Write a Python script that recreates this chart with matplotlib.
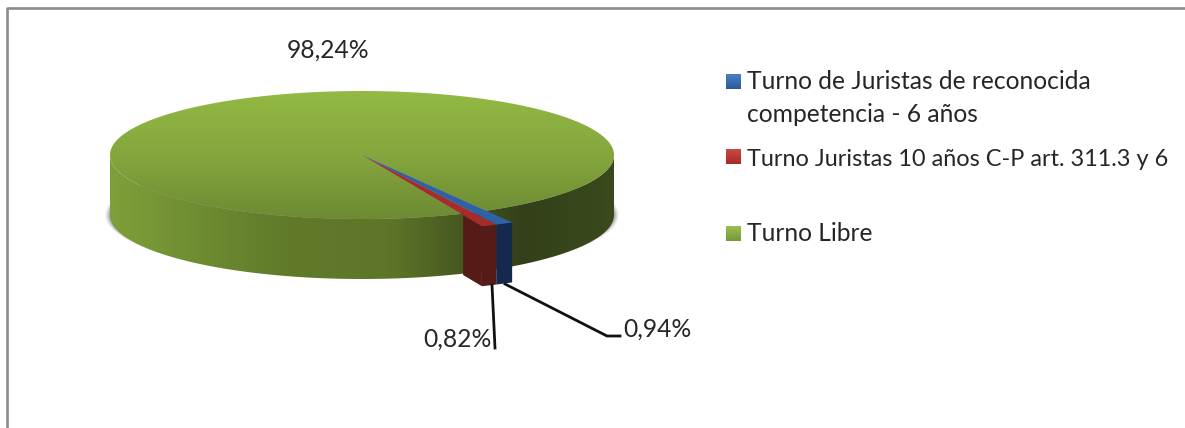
import matplotlib
matplotlib.use("Agg")
import matplotlib.pyplot as plt
from matplotlib.colors import LinearSegmentedColormap
from matplotlib.patches import Polygon, Ellipse
import numpy as np

plt.rcParams['font.family'] = ['Lato', 'DejaVu Sans']

# data
labels = ["Turno de Juristas de reconocida\ncompetencia - 6 años",
          "Turno Juristas 10 años C-P art. 311.3 y 6",
          "Turno Libre"]
values = [0.94, 0.82, 98.24]
value_texts = ["0,94%", "0,82%", "98,24%"]

# pie geometry, in pixels of the picture
CX, CY = 362, 155
RX, RY = 252, 64
DEPTH = 60
START = 60.5
reach = [1.21, 1.21, 1.0]

top_colors = ["#2f62a4", "#a52c29", None]
face_colors = ["#14294d", "#561a17", None]
TEXT = "#262626"
FONT = 17.7


def point(angle, r=1.0, dy=0):
    a = np.radians(angle)
    return np.column_stack([CX + r * RX * np.cos(a), CY + dy + r * RY * np.sin(a)])


def gradient(ax, clip, stops, box, horizontal, zorder):
    cmap = LinearSegmentedColormap.from_list("g", stops)
    ramp = np.linspace(0, 1, 256)
    ramp = ramp.reshape(1, -1) if horizontal else ramp.reshape(-1, 1)
    im = ax.imshow(ramp, cmap=cmap, extent=box, aspect='auto', vmin=0, vmax=1, zorder=zorder)
    im.set_clip_path(Polygon(clip, transform=ax.transData))


fig = plt.figure(figsize=(11.85, 4.28), dpi=100)
ax = fig.add_axes([0, 0, 1, 1])
ax.axis('off')

# outer frame
ax.plot([7, 7, 1185], [428, 8, 8], color="#8c8c8c", lw=1.9, zorder=1)

# soft shadow behind the disc
for grow, alpha in zip([5, 4, 3, 2, 1], [0.05, 0.08, 0.12, 0.16, 0.2]):
    ax.add_patch(Ellipse((CX, CY + DEPTH), 2 * (RX + grow), 2 * (RY - 3), color="#555566",
                         alpha=alpha, lw=0, zorder=2))

# angles of each slice from the values
edges = START + np.concatenate([[0], np.cumsum(values)]) * 360 / sum(values)

# green side wall, front half only
front = np.linspace(0, 180, 200)
wall = np.vstack([point(front), point(front[::-1], dy=DEPTH)])
gradient(ax, wall,
         [(0, "#3a4a1c"), (0.18, "#33401a"), (0.29, "#45561f"), (0.45, "#5f7629"),
          (0.65, "#5f7a2a"), (0.85, "#718f33"), (1, "#7f9f3a")],
         (CX + RX, CX - RX, CY + RY + DEPTH, CY - RY), True, 3)

# green top
t = np.linspace(edges[2], edges[3], 400)
top = np.vstack([[[CX, CY]], point(t)])
gradient(ax, top, [(0, "#94b944"), (0.5, "#84a63d"), (1, "#6d8b33")],
         (CX - RX, CX + RX, CY + RY, CY - RY), False, 4)

# radial wall of the red slice, where it comes out of the disc
e = edges[2]
ax.fill(*np.vstack([point(e, 1.02), point(e, reach[1]), point(e, reach[1], DEPTH),
                    point(e, 1.02, DEPTH)]).T, color=face_colors[1], lw=0, zorder=5)

# small slices: outer face, then top
for i in range(2):
    a = np.linspace(edges[i], edges[i + 1], 20)
    face = np.vstack([point(a, reach[i]), point(a[::-1], reach[i], DEPTH)])
    ax.fill(*face.T, color=face_colors[i], lw=0, zorder=5)
    cap = np.vstack([[[CX, CY]], point(a, reach[i])])
    ax.fill(*cap.T, color=top_colors[i], lw=0, zorder=6)

# value labels and leader lines
ax.plot([505, 607, 620], [284, 336, 336], color="#111111", lw=2, zorder=7)
ax.plot([492, 495], [285, 348], color="#111111", lw=2, zorder=7)
ax.text(657, 329, value_texts[0], ha='center', va='center', fontsize=FONT, color=TEXT)
ax.text(457, 339, value_texts[1], ha='center', va='center', fontsize=FONT, color=TEXT)
ax.text(328, 50, value_texts[2], ha='center', va='center', fontsize=FONT, color=TEXT)

# legend
legend_y = [81.5, 156.5, 233]
legend_text_y = [98, 160, 233]
legend_size = [FONT, 16.9, FONT]
swatch_colors = [("#4a80c4", "#2c5a9c"), ("#cc4a46", "#a52a27"), ("#9cc04e", "#76973a")]
for y, ty, size, lab, sw in zip(legend_y, legend_text_y, legend_size, labels, swatch_colors):
    box = [(726, y - 7.5), (741, y - 7.5), (741, y + 7.5), (726, y + 7.5)]
    gradient(ax, box, [sw[0], sw[1]], (726, 741, y + 7.5, y - 7.5), False, 5)
    ax.text(747, ty, lab, ha='left', va='center', fontsize=size, color=TEXT, linespacing=1.5)

ax.set_xlim(0, 1185)
ax.set_ylim(428, 0)
fig.savefig("out.png", dpi=100)
